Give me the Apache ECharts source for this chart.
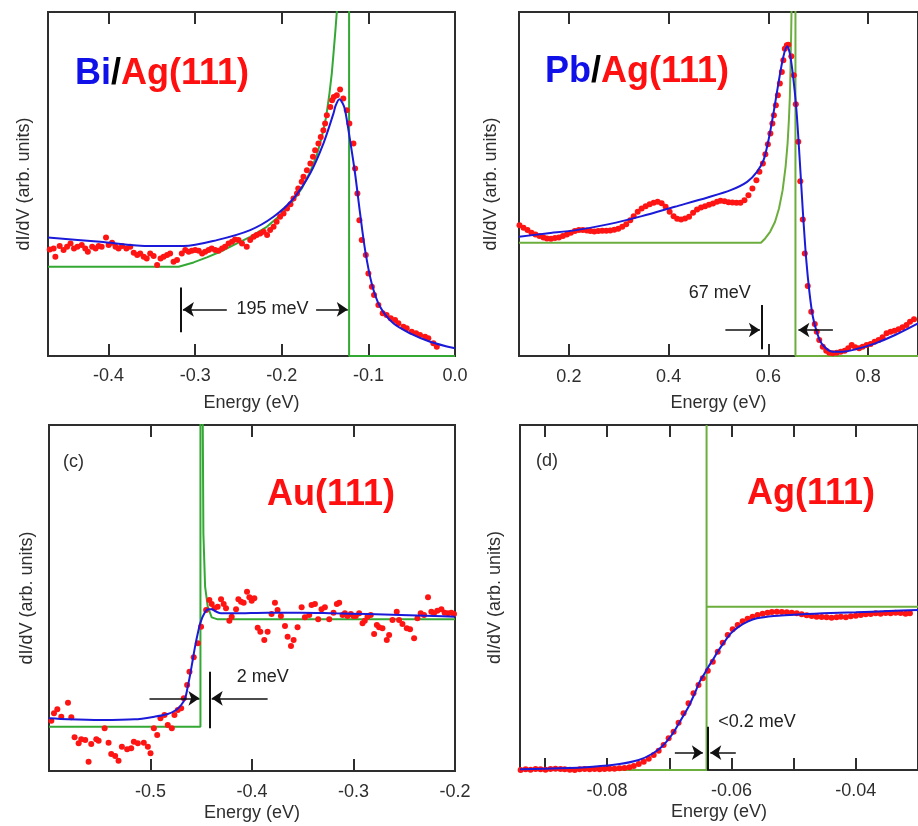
<!DOCTYPE html>
<html><head><meta charset="utf-8">
<script src="https://cdn.jsdelivr.net/npm/echarts@6/dist/echarts.min.js"></script>
<style>html,body{margin:0;padding:0;background:#fff}#c{width:918px;height:826px}</style>
</head><body><div id="c"></div>
<script>
// ---------- Panel (a) Bi/Ag(111) ----------
const aRed = [[-0.468,32.0],[-0.4635,32.3],[-0.4615,29.8],[-0.4565,33.0],[-0.452,31.8],[-0.448,32.8],[-0.444,33.8],[-0.440,32.3],[-0.436,32.8],[-0.431,33.3],[-0.427,32.3],[-0.424,31.3],[-0.419,32.8],[-0.415,32.3],[-0.4115,33.0],[-0.408,32.8],[-0.403,35.6],[-0.400,33.3],[-0.396,34.0],[-0.392,32.8],[-0.3885,32.3],[-0.3845,33.0],[-0.3795,32.3],[-0.375,32.8],[-0.371,31.0],[-0.367,30.3],[-0.3635,30.8],[-0.3595,29.8],[-0.356,29.3],[-0.352,30.8],[-0.348,30.0],[-0.344,27.3],[-0.340,29.3],[-0.3365,29.8],[-0.3325,30.3],[-0.329,30.8],[-0.325,28.3],[-0.321,28.8],[-0.3155,30.8],[-0.3115,31.8],[-0.3075,31.3],[-0.304,31.6],[-0.300,31.8],[-0.296,31.6],[-0.292,30.8],[-0.2885,31.3],[-0.2845,31.8],[-0.281,32.3],[-0.277,31.8],[-0.273,31.6],[-0.269,32.3],[-0.2655,32.8],[-0.2615,33.8],[-0.2575,34.3],[-0.254,35.0],[-0.250,34.8],[-0.246,33.8],[-0.2405,32.8],[-0.2365,34.8],[-0.2325,35.8],[-0.229,36.3],[-0.225,36.8],[-0.221,37.3],[-0.217,36.3],[-0.2135,37.8],[-0.2095,38.8],[-0.206,40.3],[-0.202,41.8],[-0.198,42.8],[-0.194,44.3],[-0.190,45.6],[-0.1865,47.3],[-0.1825,48.8],[-0.181,50.3],[-0.177,52.3],[-0.175,53.8],[-0.171,55.8],[-0.167,57.8],[-0.164,59.8],[-0.1615,61.8],[-0.1577,63.8],[-0.155,65.8],[-0.152,67.8],[-0.150,69.8],[-0.148,72.3],[-0.144,74.8],[-0.142,76.8],[-0.140,77.8],[-0.1365,78.3],[-0.1327,80.0],[-0.129,77.3],[-0.125,73.8],[-0.122,69.8],[-0.1173,63.8],[-0.1154,56.3],[-0.1127,48.8],[-0.1104,40.8],[-0.1077,34.8],[-0.103,30.3],[-0.100,24.8],[-0.096,20.8],[-0.0935,18.3],[-0.0885,15.3],[-0.0835,12.8],[-0.079,12.3],[-0.0742,11.3],[-0.0692,10.8],[-0.0654,9.8],[-0.0596,8.8],[-0.0558,8.3],[-0.050,7.3],[-0.045,6.8],[-0.0404,6.3],[-0.0346,5.8],[-0.0308,5.3],[-0.025,3.8],[-0.021,2.8]];
const aBlue = [[-0.47,35.6],[-0.4096,34.3],[-0.352,33.0],[-0.3135,33.0],[-0.275,34.8],[-0.2365,37.8],[-0.2096,41.8],[-0.1865,47.3],[-0.1673,54.8],[-0.152,63.8],[-0.1404,72.8],[-0.1377,75.3],[-0.1335,77.1],[-0.1296,75.8],[-0.1269,73.8],[-0.1212,64.8],[-0.1154,54.8],[-0.1096,42.8],[-0.1038,31.8],[-0.0962,21.8],[-0.0865,14.8],[-0.0712,9.8],[-0.0519,6.8],[-0.0288,4.3],[0.0,2.3]];
const aGreen = [[-0.47,26.8],[-0.3192,26.8],[-0.3019,28.1],[-0.2865,29.6],[-0.2712,31.3],[-0.2558,33.3],[-0.2365,35.8],[-0.2173,38.8],[-0.2019,42.3],[-0.1865,46.8],[-0.1769,50.3],[-0.1673,55.3],[-0.1596,60.3],[-0.1538,65.8],[-0.1488,71.8],[-0.145,78.8],[-0.1423,84.8],[-0.14,91.8],[-0.1381,97.8],[-0.1365,103.3],[-0.135,109.8],[-0.1223,150],[-0.1223,0],[0,0]];
const aTicks = [-0.4,-0.3,-0.2,-0.1];
const aTickLabels = [-0.4,-0.3,-0.2,-0.1,0.0];
const aBars = [[[-0.3169,20.6],[-0.3169,7.1]]];
const aArrows = [[[-0.2635,14.0],[-0.3142,14.0]],[[-0.1604,14.0],[-0.1238,14.0]]];
const aNotes = [['195 meV',-0.2108,14.0]];

// ---------- Panel (b) Pb/Ag(111) ----------
const bRed = [[0.101,39.3],[0.109,38.5],[0.117,37.8],[0.125,37.0],[0.133,36.5],[0.141,36.0],[0.149,35.6],[0.156,35.3],[0.164,35.2],[0.172,35.4],[0.180,35.6],[0.188,36.0],[0.196,36.5],[0.204,37.0],[0.212,37.5],[0.220,37.8],[0.228,37.8],[0.236,37.7],[0.243,37.5],[0.251,37.4],[0.259,37.5],[0.267,37.6],[0.275,37.6],[0.283,37.7],[0.291,37.9],[0.299,38.2],[0.307,38.8],[0.315,39.6],[0.323,40.8],[0.330,42.0],[0.338,43.3],[0.346,44.3],[0.354,45.0],[0.362,45.6],[0.370,46.0],[0.378,46.3],[0.386,45.9],[0.394,44.8],[0.402,43.3],[0.410,42.0],[0.417,41.2],[0.425,41.0],[0.433,41.3],[0.441,41.8],[0.449,43.0],[0.457,44.0],[0.465,44.6],[0.473,45.0],[0.481,45.4],[0.489,45.8],[0.497,46.3],[0.504,46.6],[0.512,46.5],[0.520,46.2],[0.528,46.1],[0.536,46.0],[0.544,46.0],[0.552,46.8],[0.560,48.3],[0.568,50.3],[0.576,52.8],[0.582,55.3],[0.589,57.8],[0.594,60.6],[0.599,63.6],[0.604,66.8],[0.608,69.8],[0.611,72.3],[0.615,75.3],[0.619,78.3],[0.623,81.8],[0.627,85.3],[0.630,88.8],[0.633,92.3],[0.637,93.3],[0.640,93.5],[0.646,90.0],[0.651,84.3],[0.655,75.6],[0.660,64.3],[0.664,52.5],[0.669,41.0],[0.673,30.8],[0.679,21.0],[0.686,13.3],[0.693,9.6],[0.697,7.3],[0.702,4.8],[0.709,2.8],[0.716,1.6],[0.722,1.0],[0.729,0.8],[0.737,1.0],[0.745,1.3],[0.753,1.6],[0.760,2.3],[0.767,3.3],[0.774,2.6],[0.782,2.3],[0.789,2.8],[0.797,3.3],[0.805,3.6],[0.813,4.3],[0.821,4.8],[0.829,5.6],[0.837,6.8],[0.845,7.3],[0.853,7.6],[0.861,8.0],[0.869,8.6],[0.877,9.3],[0.884,10.3],[0.892,11.0]];
const bBlue = [[0.1,35.8],[0.155,36.8],[0.2145,37.8],[0.2804,39.6],[0.3464,42.0],[0.4123,44.8],[0.4782,47.6],[0.5244,49.8],[0.5574,52.3],[0.5771,55.3],[0.5903,58.8],[0.6002,64.8],[0.6101,72.8],[0.620,81.8],[0.6299,89.8],[0.6378,93.0],[0.6431,90.8],[0.6497,83.8],[0.6563,73.8],[0.6629,58.8],[0.6694,42.8],[0.676,28.8],[0.6826,18.8],[0.6892,11.8],[0.6991,6.3],[0.709,3.3],[0.7288,1.3],[0.7486,1.3],[0.7749,2.0],[0.8145,3.8],[0.854,6.3],[0.9,9.8]];
const bGreen = [[0.1,34.0],[0.5851,34.0],[0.5936,35.3],[0.6035,37.3],[0.6134,40.3],[0.6213,44.3],[0.6286,49.8],[0.6345,56.8],[0.6385,63.8],[0.6411,70.8],[0.6431,77.8],[0.6444,86.8],[0.6457,96.8],[0.6464,103.3],[0.647,109.8],[0.6543,150],[0.6543,0],[0.9,0]];
const bTicks = [0.2,0.4,0.6,0.8];
const bTickLabels = [0.2,0.4,0.6,0.8];
const bBars = [[[0.586,15.3],[0.586,2.0]]];
const bArrows = [[[0.5138,7.8],[0.583,7.8]],[[0.7294,7.8],[0.6602,7.8]]];
const bNotes = [['67 meV',0.5026,18.8]];

// ---------- Panel (c) Au(111) ----------
const cRed = [[-0.5977,15.1],[-0.5951,17.3],[-0.5918,18.5],[-0.5879,16.3],[-0.5813,20.5],[-0.578,16.1],[-0.5748,10.1],[-0.5708,8.3],[-0.5682,9.5],[-0.5643,9.3],[-0.561,2.8],[-0.5584,8.1],[-0.5534,9.5],[-0.5511,9.1],[-0.5452,12.8],[-0.5413,8.5],[-0.5387,5.1],[-0.5348,4.5],[-0.5315,3.1],[-0.5282,7.3],[-0.523,6.5],[-0.519,6.8],[-0.5164,8.8],[-0.5125,8.3],[-0.5066,8.5],[-0.5026,7.3],[-0.5,5.3],[-0.4967,12.8],[-0.4934,10.8],[-0.4902,15.8],[-0.4862,16.8],[-0.483,13.8],[-0.479,12.8],[-0.4764,16.8],[-0.4731,18.3],[-0.4698,18.8],[-0.4672,21.8],[-0.4639,25.8],[-0.4616,29.8],[-0.4574,34.1],[-0.4534,38.3],[-0.4502,43.3],[-0.4452,48.3],[-0.442,51.3],[-0.4397,50.1],[-0.437,48.8],[-0.4338,49.3],[-0.4305,51.5],[-0.4279,50.1],[-0.4256,48.8],[-0.4223,45.1],[-0.42,46.3],[-0.4157,48.5],[-0.4134,51.5],[-0.4108,50.8],[-0.4082,50.5],[-0.4049,53.8],[-0.4026,52.1],[-0.4003,51.1],[-0.3977,51.8],[-0.3944,43.0],[-0.3918,41.8],[-0.3879,39.3],[-0.3846,41.8],[-0.3807,47.1],[-0.3774,50.5],[-0.3748,48.3],[-0.3715,46.5],[-0.3675,43.5],[-0.3649,40.3],[-0.3616,37.5],[-0.359,39.3],[-0.3551,43.1],[-0.3511,49.1],[-0.3479,46.1],[-0.3436,46.8],[-0.3413,49.8],[-0.338,50.1],[-0.3348,45.5],[-0.3315,48.5],[-0.3282,49.1],[-0.3239,45.5],[-0.3197,47.5],[-0.3164,50.1],[-0.3141,50.5],[-0.3108,46.8],[-0.3085,47.3],[-0.3059,46.5],[-0.3026,47.1],[-0.3,46.5],[-0.2977,46.5],[-0.2944,47.3],[-0.2911,44.3],[-0.2889,45.1],[-0.2862,46.3],[-0.283,46.8],[-0.2797,41.1],[-0.277,43.8],[-0.2748,43.1],[-0.2715,42.8],[-0.2672,39.3],[-0.2649,40.8],[-0.2616,45.3],[-0.2574,47.8],[-0.2551,45.3],[-0.2518,44.1],[-0.2475,42.8],[-0.2443,42.5],[-0.2403,39.8],[-0.237,45.8],[-0.2338,47.3],[-0.2305,46.8],[-0.2266,52.1],[-0.2233,47.8],[-0.2207,47.3],[-0.2174,48.1],[-0.2134,48.5],[-0.2102,47.5],[-0.2069,47.3],[-0.2036,47.5],[-0.201,47.1]];
const cBlue = [[-0.6,15.8],[-0.5813,15.5],[-0.5485,15.3],[-0.5157,15.5],[-0.4961,16.3],[-0.483,17.1],[-0.4748,18.3],[-0.4698,19.8],[-0.4659,21.8],[-0.4633,25.3],[-0.4607,29.3],[-0.4584,33.3],[-0.4561,37.3],[-0.4534,41.3],[-0.4508,44.5],[-0.4469,47.3],[-0.443,48.5],[-0.4397,48.5],[-0.4354,47.8],[-0.4305,47.3],[-0.4174,47.3],[-0.3846,47.5],[-0.3518,47.5],[-0.319,47.3],[-0.2862,47.1],[-0.2534,46.8],[-0.2207,46.5],[-0.2,46.3]];
const cGreen = [[-0.6,13.3],[-0.4508,13.3],[-0.4508,140],[-0.4487,140],[-0.4485,103.8],[-0.4479,71.3],[-0.4462,55.3],[-0.4436,49.3],[-0.4397,46.1],[-0.4338,45.5],[-0.2,45.5]];
const cTicks = [-0.5,-0.4,-0.3];
const cTickLabels = [-0.5,-0.4,-0.3,-0.2];
const cBars = [[[-0.442,29.8],[-0.442,12.8]]];
const cArrows = [[[-0.501,21.8],[-0.4518,21.8]],[[-0.3846,21.8],[-0.4397,21.8]]];
const cNotes = [['2 meV',-0.3895,28.3]];

// ---------- Panel (d) Ag(111) ----------
const dRed = [[-0.0939,0.0],[-0.0931,0.2],[-0.0923,0.1],[-0.0915,0.3],[-0.0907,0.2],[-0.0899,0.1],[-0.0891,0.3],[-0.0883,0.4],[-0.0875,0.3],[-0.0868,0.2],[-0.0860,0.1],[-0.0852,0.0],[-0.0844,0.2],[-0.0836,0.3],[-0.0828,0.2],[-0.0820,0.3],[-0.0812,0.2],[-0.0804,0.3],[-0.0796,0.4],[-0.0788,0.4],[-0.0780,0.5],[-0.0772,0.6],[-0.0764,0.8],[-0.0757,1.2],[-0.0749,1.8],[-0.0741,2.5],[-0.0733,3.4],[-0.0725,4.5],[-0.0717,5.8],[-0.0709,7.5],[-0.0701,9.5],[-0.0693,11.5],[-0.0685,14.2],[-0.0677,17.0],[-0.0669,20.0],[-0.0661,23.0],[-0.0653,25.5],[-0.0646,27.5],[-0.0638,29.8],[-0.0630,32.5],[-0.0622,35.5],[-0.0614,38.2],[-0.0606,40.5],[-0.0598,42.2],[-0.0590,43.5],[-0.0582,44.6],[-0.0574,45.4],[-0.0566,46.0],[-0.0558,46.5],[-0.0550,46.9],[-0.0542,47.2],[-0.0535,47.4],[-0.0527,47.5],[-0.0519,47.4],[-0.0511,47.3],[-0.0503,47.2],[-0.0495,47.0],[-0.0487,46.7],[-0.0479,46.4],[-0.0471,46.2],[-0.0463,46.0],[-0.0455,45.9],[-0.0447,45.8],[-0.0439,45.7],[-0.0431,45.8],[-0.0424,46.0],[-0.0416,45.8],[-0.0408,46.1],[-0.0400,46.3],[-0.0392,46.5],[-0.0384,46.7],[-0.0376,46.8],[-0.0368,47.0],[-0.0360,46.9],[-0.0352,47.1],[-0.0344,47.0],[-0.0336,47.2],[-0.0328,47.1],[-0.0320,46.9],[-0.0313,47.0]];
const dBlue = [[-0.094,0.2],[-0.0876,0.5],[-0.0823,1.0],[-0.078,1.8],[-0.0749,3.0],[-0.0728,4.8],[-0.0712,7.0],[-0.0696,10.5],[-0.0683,14.5],[-0.0669,19.0],[-0.0659,23.0],[-0.0651,26.5],[-0.0643,29.0],[-0.0637,31.0],[-0.063,33.0],[-0.0622,35.5],[-0.0611,38.5],[-0.0601,41.0],[-0.0588,43.0],[-0.0574,44.5],[-0.0559,45.5],[-0.0532,46.2],[-0.0506,46.5],[-0.0479,46.8],[-0.0453,47.0],[-0.04,47.3],[-0.0347,47.7],[-0.03,48.0]];
const dGreen = [[-0.094,0],[-0.064,0],[-0.064,103.5],[-0.064,49.0],[-0.03,49.0]];
const dTicks = [-0.09,-0.08,-0.07,-0.06,-0.05,-0.04];
const dTickLabels = [-0.08,-0.06,-0.04];
const dBars = [[[-0.0638,13.0],[-0.0638,0]]];
const dArrows = [[[-0.0691,5.2],[-0.0646,5.2]],[[-0.0593,5.2],[-0.0634,5.2]]];
const dNotes = [['<0.2 meV',-0.0559,14.5]];

// ---------- styling / layout ----------
const FONT = '"Liberation Sans", Arial, Helvetica, sans-serif';
const AX = '#2e2e2e';
const RED = '#ff1414', BLUE = '#1a1ad8', GREEN_A = '#34a834', GREEN_B = '#6cae3e';

const panels = [
  {grid:{left:48,top:12,width:407,height:344}, xMin:-0.47, xMax:0, yMax:103.3, dec:1,
   ticks:aTicks, labels:aTickLabels, nameGap:38, margin:11, yGap:15,
   red:aRed, blue:aBlue, green:aGreen, gc:GREEN_A, bars:aBars, arrows:aArrows, notes:aNotes},
  {grid:{left:519,top:12,width:404,height:344}, xMin:0.1, xMax:0.9, yMax:103.3, dec:1,
   ticks:bTicks, labels:bTickLabels, nameGap:38, margin:12, yGap:19,
   red:bRed, blue:bBlue, green:bGreen, gc:GREEN_B, bars:bBars, arrows:bArrows, notes:bNotes},
  {grid:{left:49,top:425,width:406,height:346}, xMin:-0.6, xMax:-0.2, yMax:103.8, dec:1,
   ticks:cTicks, labels:cTickLabels, nameGap:33, margin:12, yGap:13,
   red:cRed, blue:cBlue, green:cGreen, gc:GREEN_A, bars:cBars, arrows:cArrows, notes:cNotes},
  {grid:{left:520,top:425,width:403,height:345}, xMin:-0.094, xMax:-0.03, yMax:103.5, dec:2,
   ticks:dTicks, labels:dTickLabels, nameGap:33, margin:12, yGap:16,
   red:dRed, blue:dBlue, green:dGreen, gc:GREEN_B, bars:dBars, arrows:dArrows, notes:dNotes}
];

const grid = [], xAxis = [], yAxis = [], series = [];
panels.forEach((p, i) => {
  grid.push(Object.assign({show:true, borderColor:AX, borderWidth:2, backgroundColor:'transparent', containLabel:false}, p.grid));
  const tick = {show:true, inside:true, length:12, lineStyle:{color:AX, width:2}, customValues:p.ticks};
  xAxis.push({
    type:'value', gridIndex:i, min:p.xMin, max:p.xMax, position:'bottom',
    axisLine:{show:false}, splitLine:{show:false}, axisTick:tick,
    axisLabel:{customValues:p.labels, color:AX, fontSize:18, fontFamily:FONT, margin:p.margin,
      formatter:v => Number(v).toFixed(p.dec)},
    name:'Energy (eV)', nameLocation:'middle', nameGap:p.nameGap,
    nameTextStyle:{color:AX, fontSize:18, fontFamily:FONT}
  });
  xAxis.push({
    type:'value', gridIndex:i, min:p.xMin, max:p.xMax, position:'top',
    axisLine:{show:false}, splitLine:{show:false}, axisTick:tick, axisLabel:{show:false}
  });
  yAxis.push({
    type:'value', gridIndex:i, min:0, max:p.yMax,
    axisLine:{show:false}, splitLine:{show:false}, axisTick:{show:false}, axisLabel:{show:false},
    name:'dI/dV (arb. units)', nameLocation:'middle', nameGap:p.yGap,
    nameTextStyle:{color:AX, fontSize:18, fontFamily:FONT}
  });
  const xi = i*2, yi = i;
  series.push({type:'line', xAxisIndex:xi, yAxisIndex:yi, data:p.green, showSymbol:false, symbol:'none',
    lineStyle:{color:p.gc, width:2}, clip:true, z:2, animation:false, silent:true});
  series.push({type:'scatter', xAxisIndex:xi, yAxisIndex:yi, data:p.red, symbolSize:6,
    itemStyle:{color:RED, opacity:1}, clip:true, z:3, animation:false, silent:true});
  series.push({type:'line', xAxisIndex:xi, yAxisIndex:yi, data:p.blue, showSymbol:false, symbol:'none', smooth:0.3,
    lineStyle:{color:BLUE, width:2}, clip:true, z:4, animation:false, silent:true});
  series.push({type:'line', xAxisIndex:xi, yAxisIndex:yi, data:[], z:5, animation:false, silent:true,
    markLine:{silent:true, animation:false, symbol:['none','none'], label:{show:false},
      lineStyle:{color:'#111', width:2, type:'solid'},
      data:p.bars.map(b => [{coord:b[0]},{coord:b[1]}])}});
  series.push({type:'line', xAxisIndex:xi, yAxisIndex:yi, data:[], z:5, animation:false, silent:true,
    markLine:{silent:true, animation:false, symbol:['none','arrow'], symbolSize:11, label:{show:false},
      lineStyle:{color:'#111', width:1.5, type:'solid'},
      data:p.arrows.map(a => [{coord:a[0]},{coord:a[1]}])},
    markPoint:{silent:true, animation:false, symbol:'circle', symbolSize:0,
      itemStyle:{color:'rgba(0,0,0,0)'},
      label:{show:true, position:'inside', formatter:'{b}', color:'#222', fontSize:18, fontFamily:FONT},
      data:p.notes.map(n => ({name:n[0], coord:[n[1], n[2]]}))}});
});

const big = (c) => ({color:c, fontSize:36, fontWeight:'bold', fontFamily:FONT});
const title = [
  {left:75, top:56, padding:0, text:'{b|Bi}{k|/}{r|Ag(111)}',
   textStyle:{rich:{b:big('#1010e8'), k:{color:'#000', fontSize:36, fontFamily:FONT}, r:big('#ff1010')}}},
  {left:545, top:54, padding:0, text:'{b|Pb}{k|/}{r|Ag(111)}',
   textStyle:{rich:{b:big('#1010e8'), k:{color:'#000', fontSize:36, fontFamily:FONT}, r:big('#ff1010')}}},
  {left:267, top:477, padding:0, text:'{r|Au(111)}', textStyle:{rich:{r:big('#ff1010')}}},
  {left:747, top:476, padding:0, text:'{r|Ag(111)}', textStyle:{rich:{r:big('#ff1010')}}},
  {left:63, top:453, padding:0, text:'(c)', textStyle:{color:AX, fontSize:18, fontWeight:'normal', fontFamily:FONT}},
  {left:536, top:452, padding:0, text:'(d)', textStyle:{color:AX, fontSize:18, fontWeight:'normal', fontFamily:FONT}}
];

const chart = echarts.init(document.getElementById('c'), null, {renderer:'canvas'});
chart.setOption({backgroundColor:'#fff', animation:false, title, grid, xAxis, yAxis, series});
</script></body></html>
